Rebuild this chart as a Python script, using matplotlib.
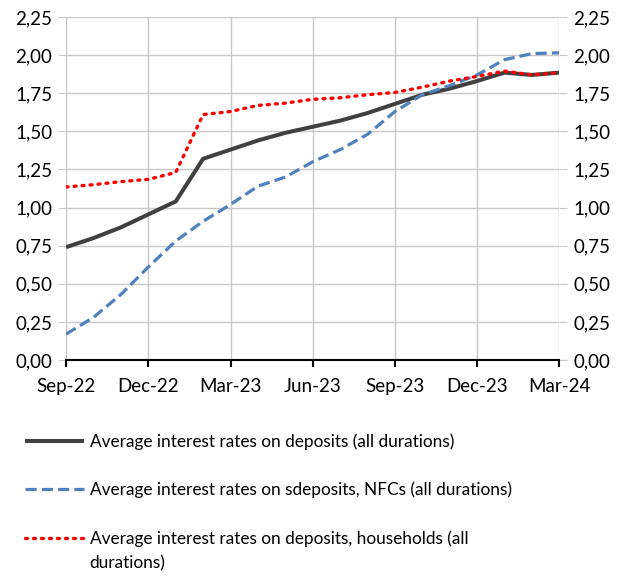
import matplotlib
matplotlib.use("Agg")
import matplotlib.pyplot as plt
from matplotlib.ticker import FuncFormatter, MultipleLocator
from matplotlib.transforms import IdentityTransform

plt.rcParams['font.family'] = ['Lato', 'DejaVu Sans']

months = ["Sep-22", "Oct-22", "Nov-22", "Dec-22", "Jan-23", "Feb-23", "Mar-23",
          "Apr-23", "May-23", "Jun-23", "Jul-23", "Aug-23", "Sep-23", "Oct-23",
          "Nov-23", "Dec-23", "Jan-24", "Feb-24", "Mar-24"]
tick_labels = ["Sep-22", "Dec-22", "Mar-23", "Jun-23", "Sep-23", "Dec-23", "Mar-24"]

deposits_all = [0.74, 0.80, 0.87, 0.955, 1.04, 1.32, 1.38, 1.44, 1.49, 1.53, 1.57,
                1.62, 1.68, 1.74, 1.78, 1.83, 1.885, 1.87, 1.885]
deposits_nfc = [0.17, 0.28, 0.43, 0.61, 0.78, 0.91, 1.02, 1.14, 1.20, 1.30, 1.38,
                1.48, 1.63, 1.74, 1.80, 1.87, 1.97, 2.01, 2.015]
deposits_hh = [1.135, 1.15, 1.17, 1.185, 1.23, 1.61, 1.63, 1.67, 1.685, 1.71, 1.72,
               1.74, 1.755, 1.79, 1.83, 1.86, 1.895, 1.87, 1.885]

labels = ["Average interest rates on deposits (all durations)",
          "Average interest rates on sdeposits, NFCs (all durations)",
          "Average interest rates on deposits, households (all"]
label_wrap = "durations)"

fig = plt.figure(figsize=(6.18, 5.76), dpi=100)
ax = fig.add_axes([0.107, 0.375, 0.798, 0.5955])

x = list(range(len(months)))
ax.plot(x, deposits_all, color="#404040", lw=2.9, label=labels[0], solid_capstyle="butt")
ax.plot(x, deposits_nfc, color="#4F81BD", lw=2.3, ls=(0, (3.5, 1.6)), label=labels[1])
ax.plot(x, deposits_hh, color="#FF0000", lw=2.4, ls=(0, (0.6, 1.8)), dash_capstyle="round",
        label=labels[2])

ax.set_xlim(0, len(months) - 1)
ax.set_ylim(0, 2.25)
ax.yaxis.set_major_locator(MultipleLocator(0.25))
fmt = FuncFormatter(lambda v, p: f"{v:.2f}".replace(".", ","))
ax.yaxis.set_major_formatter(fmt)
ax.set_xticks([months.index(t) for t in tick_labels])
ax.set_xticklabels(tick_labels)

ax.grid(True, color="#C8C8C8", lw=1.0)
ax.set_axisbelow(True)
for s in ["top", "left", "right"]:
    ax.spines[s].set_visible(False)
ax.spines["bottom"].set_color("black")
ax.spines["bottom"].set_linewidth(1.5)
ax.tick_params(axis="x", direction="out", length=5, width=1.5, color="black",
               labelsize=13.5, pad=8)
ax.tick_params(axis="y", length=6, color="#C8C8C8", labelsize=13.5, pad=4,
               right=True, labelright=True)

leg = fig.legend(loc="upper left", bbox_to_anchor=(0.0405, 0.248),
                 bbox_transform=fig.transFigure, frameon=False,
                 fontsize=12.4, handlelength=3.4, handletextpad=0.35,
                 labelspacing=1.85, borderaxespad=0, borderpad=0)

fig.canvas.draw()
bb = leg.get_texts()[2].get_window_extent()
fig.text(bb.x0, bb.y0 - 25, label_wrap, fontsize=12.4, ha="left", va="bottom",
         transform=IdentityTransform())
fig.savefig("out.png", dpi=100)
